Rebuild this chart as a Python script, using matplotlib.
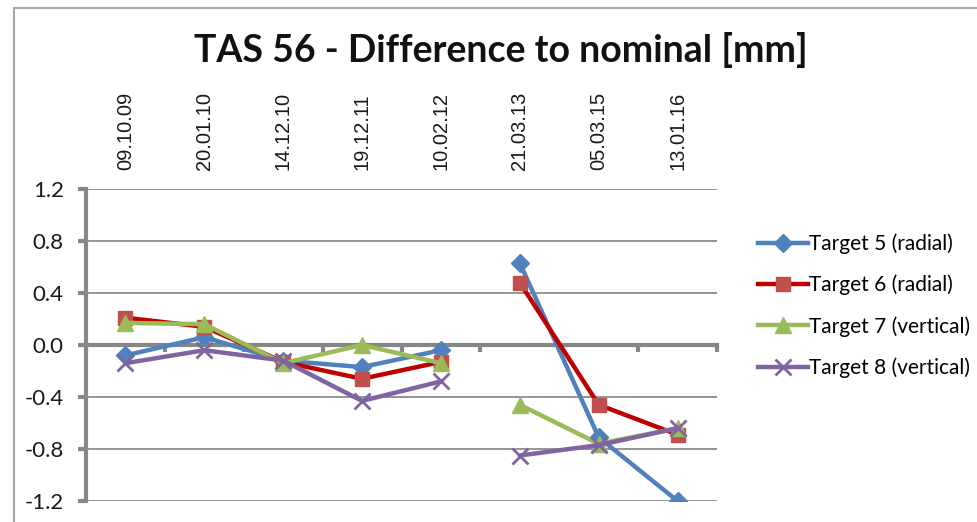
import numpy as np
import matplotlib.pyplot as plt
from matplotlib.lines import Line2D

dates = ['09.10.09', '20.01.10', '14.12.10', '19.12.11', '10.02.12',
         '21.03.13', '05.03.15', '13.01.16']

target5 = [-0.08, 0.06, -0.12, -0.17, -0.04, 0.63, -0.71, -1.20]
target6 = [0.21, 0.14, -0.13, -0.26, -0.13, 0.48, -0.46, -0.69]
target7 = [0.17, 0.16, -0.14, 0.00, -0.14, -0.46, -0.76, -0.64]
target8 = [-0.14, -0.04, -0.12, -0.43, -0.28, -0.85, -0.77, -0.64]

# the series are drawn as two runs: up to 10.02.12, then from 21.03.13
break_at = 5

series = [
    ('Target 5 (radial)', target5, '#4F81BD', '#4F81BD', 'D', 9),
    ('Target 6 (radial)', target6, '#C00000', '#C0504D', 's', 10),
    ('Target 7 (vertical)', target7, '#9BBB59', '#9BBB59', '^', 11),
    ('Target 8 (vertical)', target8, '#8064A2', '#8064A2', 'x', 11),
]

grey = '#878787'
plt.rcParams['font.family'] = ['Lato', 'DejaVu Sans']

fig = plt.figure(figsize=(9.77, 5.22), dpi=100)
ax = fig.add_axes([86 / 977, 1 - 501 / 522, 631 / 977, 312 / 522])

x = np.arange(len(dates))
handles = []
for name, vals, lc, mc, mk, ms in series:
    vals = np.array(vals)
    mew = 2 if mk == 'x' else 1
    for sl in (slice(0, break_at), slice(break_at, None)):
        ax.plot(x[sl], vals[sl], color=lc, lw=3.2, marker=mk, markersize=ms,
                markerfacecolor=mc, markeredgecolor=mc, markeredgewidth=mew,
                zorder=3)
    handles.append(Line2D([], [], color=lc, lw=3.2, marker=mk, markersize=ms,
                          markerfacecolor=mc, markeredgecolor=mc,
                          markeredgewidth=mew, label=name))

ax.set_xlim(-0.5, len(dates) - 0.5)
ax.set_ylim(-1.2, 1.2)
yt = np.arange(-1.2, 1.21, 0.4)
ax.set_yticks(yt)
ax.set_yticklabels(['%.1f' % v for v in yt])
ax.yaxis.grid(True, color='#8c8c8c', lw=1.3)
ax.set_axisbelow(True)

# category axis sits at zero, boundary ticks only
ax.spines['bottom'].set_position(('data', 0))
ax.spines['bottom'].set_color(grey)
ax.spines['bottom'].set_linewidth(3)
ax.spines['bottom'].set_zorder(2)
ax.spines['left'].set_color(grey)
ax.spines['left'].set_linewidth(3)
ax.spines['top'].set_visible(False)
ax.spines['right'].set_visible(False)
ax.set_xticks(np.arange(-0.5, len(dates), 1.0))
ax.set_xticklabels([])
ax.tick_params(axis='x', direction='out', length=5, width=3, color=grey)
ax.tick_params(axis='y', direction='out', length=6, width=3, color=grey,
               labelsize=16, labelcolor='#1a1a1a', pad=10)

top = ax.secondary_xaxis('top')
top.set_xticks(x)
top.set_xticklabels(dates, rotation=90, fontsize=14.5, family='Liberation Sans', color='#1a1a1a')
top.tick_params(length=0, pad=14)
top.spines['top'].set_visible(False)

fig.text(0.513, 0.905, 'TAS 56 - Difference to nominal [mm]', ha='center', va='center',
         fontsize=27, fontweight='bold', color='#111111')

fig.legend(handles=handles, loc='upper left', bbox_to_anchor=(750 / 977, 1 - 225 / 522),
           frameon=False, fontsize=15, handlelength=2.4, handletextpad=0.05,
           labelspacing=1.0, borderaxespad=0)

# outer chart border (left and top edges show)
fig.add_artist(Line2D([14 / 977, 14 / 977], [0, 1 - 8 / 522], color='#a6a6a6', lw=1.5))
fig.add_artist(Line2D([14 / 977, 1], [1 - 8 / 522, 1 - 8 / 522], color='#a6a6a6', lw=1.5))

fig.savefig('out.png', dpi=100)
